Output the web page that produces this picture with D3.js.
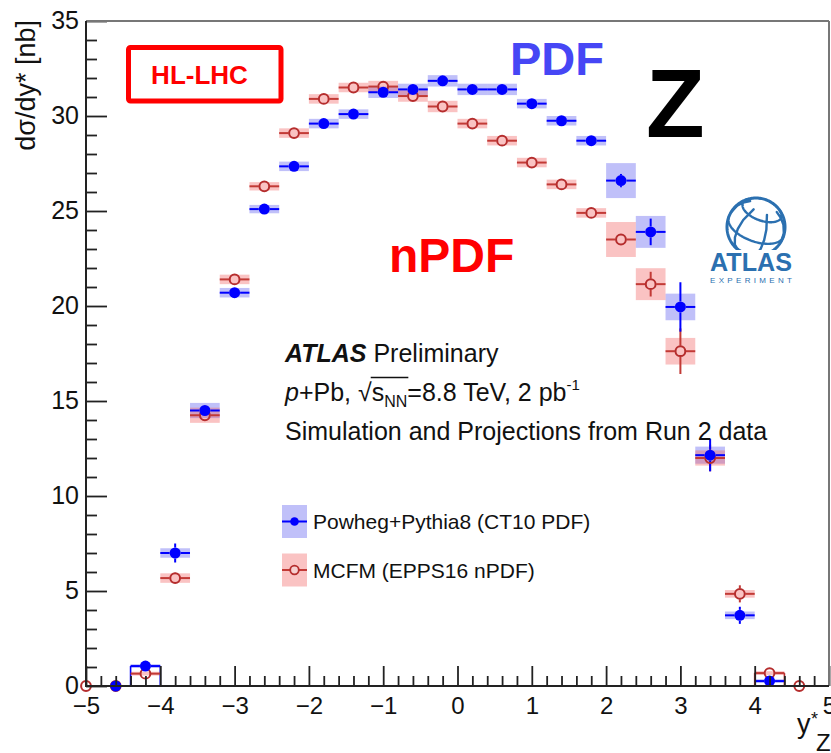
<!DOCTYPE html>
<html>
<head>
<meta charset="utf-8">
<script src="https://cdn.jsdelivr.net/npm/d3@7"></script>
<style>
  body { margin: 0; background: #fff; }
  svg { display: block; }
  text { font-family: "Liberation Sans", Arial, Helvetica, sans-serif; fill: #111; white-space: pre; }
</style>
</head>
<body>
<svg id="chart" width="831" height="753"></svg>
<script>
// Z boson differential cross section vs rapidity, p+Pb at 8.8 TeV (HL-LHC projection)

// Powheg+Pythia8 (CT10 PDF): bin centres, dσ/dy* [nb], stat and syst half-widths
const powhegBins = [-4.6, -4.2, -3.8, -3.4, -3.0, -2.6, -2.2, -1.8, -1.4, -1.0, -0.6, -0.2,
                    0.2, 0.6, 1.0, 1.4, 1.8, 2.2, 2.6, 3.0, 3.4, 3.8, 4.2];
const powhegXsec = [0.0, 1.05, 7.0, 14.5, 20.7, 25.1, 27.35, 29.6, 30.1, 31.25, 31.4, 31.85,
                    31.4, 31.4, 30.65, 29.75, 28.7, 26.6, 23.9, 19.95, 12.15, 3.72, 0.26];
const powhegStat = [0.05, 0.15, 0.5, 0.25, 0.2, 0.15, 0.15, 0.15, 0.15, 0.15, 0.15, 0.15,
                    0.15, 0.15, 0.15, 0.2, 0.25, 0.35, 0.7, 1.3, 0.85, 0.45, 0.1];
const powhegSyst = [0.05, 0.1, 0.25, 0.4, 0.25, 0.22, 0.25, 0.25, 0.25, 0.3, 0.3, 0.3,
                    0.3, 0.3, 0.25, 0.25, 0.25, 0.92, 0.84, 0.7, 0.45, 0.2, 0.1];

// MCFM (EPPS16 nPDF)
const mcfmBins = [-5.0, -4.6, -4.2, -3.8, -3.4, -3.0, -2.6, -2.2, -1.8, -1.4, -1.0, -0.6, -0.2,
                  0.2, 0.6, 1.0, 1.4, 1.8, 2.2, 2.6, 3.0, 3.4, 3.8, 4.2, 4.6];
const mcfmXsec = [0.0, 0.0, 0.65, 5.68, 14.25, 21.4, 26.3, 29.1, 30.9, 31.5, 31.55, 31.05, 30.5,
                  29.6, 28.7, 27.55, 26.4, 24.9, 23.5, 21.15, 17.62, 12.0, 4.85, 0.68, 0.0];
const mcfmStat = [0.05, 0.05, 0.1, 0.3, 0.25, 0.2, 0.15, 0.15, 0.15, 0.15, 0.15, 0.15, 0.15,
                  0.15, 0.15, 0.15, 0.2, 0.2, 0.25, 0.65, 1.2, 0.7, 0.45, 0.15, 0.05];
const mcfmSyst = [0.05, 0.05, 0.1, 0.25, 0.4, 0.25, 0.22, 0.25, 0.25, 0.25, 0.3, 0.3, 0.3,
                  0.25, 0.25, 0.25, 0.25, 0.25, 0.92, 0.84, 0.7, 0.4, 0.2, 0.1, 0.05];

const binHalfWidth = 0.2;

// axis ticks
const xMajorTicks = [-5, -4, -3, -2, -1, 0, 1, 2, 3, 4, 5];
const yMajorTicks = [0, 5, 10, 15, 20, 25, 30, 35];
const xDomain = [-5, 5];
const yDomain = [0, 35];

// labels
const yTitle = "dσ/dy* [nb]";
const headerLine1 = ["ATLAS", " Preliminary"];
const headerLine3 = "Simulation and Projections from Run 2 data";
const legendLabels = ["Powheg+Pythia8 (CT10 PDF)", "MCFM (EPPS16 nPDF)"];

const svg = d3.select("#chart");
const plot = { left: 86, right: 829, top: 21, bottom: 686 };

const x = d3.scaleLinear().domain(xDomain).range([plot.left, plot.right]);
const y = d3.scaleLinear().domain(yDomain).range([plot.bottom, plot.top]);

const BLUE = "#0000ff";
const BLUE_BAND = "rgba(60,60,235,0.32)";
const RED = "#b52d2d";
const RED_BAND = "rgba(240,90,90,0.36)";
const R = 5.5;

svg.append("defs").append("clipPath").attr("id", "plotClip")
  .append("rect")
  .attr("x", plot.left).attr("y", plot.top)
  .attr("width", plot.right - plot.left).attr("height", plot.bottom - plot.top);

function series(bins, vals, stat, syst) {
  return bins.map((b, i) => ({ x: b, v: vals[i], stat: stat[i], syst: syst[i] }));
}
const powheg = series(powhegBins, powhegXsec, powhegStat, powhegSyst);
const mcfm = series(mcfmBins, mcfmXsec, mcfmStat, mcfmSyst);

const clipped = svg.append("g").attr("clip-path", "url(#plotClip)");

// systematic bands
function drawBands(data, fill) {
  clipped.append("g").selectAll("rect").data(data).join("rect")
    .attr("x", d => x(d.x - binHalfWidth))
    .attr("width", d => x(d.x + binHalfWidth) - x(d.x - binHalfWidth))
    .attr("y", d => y(d.v + d.syst))
    .attr("height", d => y(d.v - d.syst) - y(d.v + d.syst))
    .attr("fill", fill);
}
drawBands(powheg, BLUE_BAND);
drawBands(mcfm, RED_BAND);

// bin edge outlines for the near-zero forward/backward bins
const lowBins = powheg.filter(d => d.v > 0 && d.v < 1.5).map(d => {
  const m = mcfm.find(e => Math.abs(e.x - d.x) < 1e-6);
  const top = Math.max(d.v, m ? m.v : 0);
  return { x: d.x, top, color: d.v >= (m ? m.v : 0) ? BLUE : RED };
});
const edges = clipped.append("g");
lowBins.forEach(b => {
  [b.x - binHalfWidth, b.x + binHalfWidth].forEach(ex => {
    edges.append("line")
      .attr("x1", x(ex)).attr("x2", x(ex))
      .attr("y1", y(b.top)).attr("y2", y(0))
      .attr("stroke", b.color).attr("stroke-width", 1.6);
  });
});

// error bars, broken around the marker
function drawErrors(data, color) {
  const g = clipped.append("g").attr("stroke", color).attr("stroke-width", 2);
  data.forEach(d => {
    const cx = x(d.x), cy = y(d.v);
    const xl = x(d.x - binHalfWidth), xr = x(d.x + binHalfWidth);
    g.append("line").attr("x1", xl).attr("x2", cx - R).attr("y1", cy).attr("y2", cy);
    g.append("line").attr("x1", cx + R).attr("x2", xr).attr("y1", cy).attr("y2", cy);
    const yt = y(d.v + d.stat), yb = y(d.v - d.stat);
    if (cy - yt > R) g.append("line").attr("x1", cx).attr("x2", cx).attr("y1", yt).attr("y2", cy - R);
    if (yb - cy > R) g.append("line").attr("x1", cx).attr("x2", cx).attr("y1", cy + R).attr("y2", yb);
  });
}
drawErrors(mcfm, "#c23a36");

svg.append("g").selectAll("circle").data(mcfm).join("circle")
  .attr("cx", d => x(d.x)).attr("cy", d => y(d.v)).attr("r", R - 0.6)
  .attr("fill", "none").attr("stroke", RED).attr("stroke-width", 2);

drawErrors(powheg, BLUE);
svg.append("g").selectAll("circle").data(powheg).join("circle")
  .attr("cx", d => x(d.x)).attr("cy", d => y(d.v)).attr("r", R)
  .attr("fill", BLUE);

// axes
const axisColor = "#222";
const xAxis = svg.append("g").attr("transform", `translate(0,${plot.bottom})`)
  .call(d3.axisBottom(x).tickValues(xMajorTicks).tickSize(-20).tickPadding(11));
const xMinor = svg.append("g").attr("transform", `translate(0,${plot.bottom})`)
  .call(d3.axisBottom(x).tickValues(d3.range(-50, 51, 2).map(v => v / 10).filter(v => Math.abs(v - Math.round(v)) > 1e-6))
    .tickSize(-10).tickFormat(""));
const yAxis = svg.append("g").attr("transform", `translate(${plot.left},0)`)
  .call(d3.axisLeft(y).tickValues(yMajorTicks).tickSize(-21).tickPadding(7));
const yMinor = svg.append("g").attr("transform", `translate(${plot.left},0)`)
  .call(d3.axisLeft(y).tickValues(d3.range(0, 36).filter(v => v % 5 !== 0)).tickSize(-11).tickFormat(""));

[xAxis, xMinor, yAxis, yMinor].forEach(a => {
  a.select(".domain").remove();
  a.selectAll(".tick line").attr("stroke", axisColor).attr("stroke-width", 1.8);
});
xAxis.selectAll(".tick text").attr("font-size", 24).attr("fill", "#111")
  .style("font-family", '"Liberation Sans", Arial, sans-serif');
yAxis.selectAll(".tick text").attr("font-size", 25).attr("fill", "#111")
  .attr("dy", "0.3em")
  .style("font-family", '"Liberation Sans", Arial, sans-serif');

// frame
svg.append("line").attr("x1", plot.left).attr("x2", plot.right).attr("y1", plot.top).attr("y2", plot.top)
  .attr("stroke", "#777").attr("stroke-width", 2);
svg.append("line").attr("x1", plot.right).attr("x2", plot.right).attr("y1", plot.top).attr("y2", plot.bottom)
  .attr("stroke", "#777").attr("stroke-width", 2);
svg.append("line").attr("x1", plot.left).attr("x2", plot.left).attr("y1", plot.top).attr("y2", plot.bottom + 1)
  .attr("stroke", axisColor).attr("stroke-width", 2);
svg.append("line").attr("x1", plot.left - 1).attr("x2", plot.right).attr("y1", plot.bottom).attr("y2", plot.bottom)
  .attr("stroke", axisColor).attr("stroke-width", 2);

// axis titles
svg.append("text").attr("transform", "translate(35,20) rotate(-90)")
  .attr("text-anchor", "end").attr("font-size", 27).text(yTitle);
svg.append("text").attr("x", 797).attr("y", 733).attr("font-size", 27).text("y");
svg.append("text").attr("x", 811).attr("y", 725).attr("font-size", 18).text("*");
svg.append("text").attr("x", 816).attr("y", 751).attr("font-size", 24).text("Z");

// header text
const h1 = svg.append("text").attr("x", 285).attr("y", 362).attr("font-size", 25);
h1.append("tspan").attr("font-weight", "bold").attr("font-style", "italic").text(headerLine1[0]);
h1.append("tspan").text(headerLine1[1]);

// second line, assembled piece by piece
(function () {
  const base = 401;
  let cx = 285;
  const g = svg.append("g");
  function piece(t, opts = {}) {
    const el = g.append("text").attr("x", cx).attr("y", base + (opts.dy || 0))
      .attr("font-size", opts.size || 25).text(t);
    if (opts.italic) el.attr("font-style", "italic");
    const w = el.node().getComputedTextLength();
    const start = cx;
    cx += w;
    return { start, end: cx };
  }
  piece("p", { italic: true });
  piece("+Pb,\u00a0");
  piece("√");
  const s = piece("s");
  const nn = piece("NN", { size: 16, dy: 6 });
  g.append("line").attr("x1", s.start - 1).attr("x2", nn.end + 1)
    .attr("y1", base - 23.5).attr("y2", base - 23.5)
    .attr("stroke", "#111").attr("stroke-width", 1.4);
  piece("=8.8 TeV, 2 pb");
  piece("-1", { size: 15, dy: -11 });
})();

svg.append("text").attr("x", 285).attr("y", 440).attr("font-size", 25).text(headerLine3);

// legend
const legendRows = [
  { y: 521.5, band: BLUE_BAND, line: BLUE, filled: true, label: legendLabels[0] },
  { y: 570, band: RED_BAND, line: "#c23a36", filled: false, label: legendLabels[1] }
];
const lg = svg.append("g");
legendRows.forEach(r => {
  lg.append("rect").attr("x", 282).attr("y", r.y - 16.5).attr("width", 25).attr("height", 33).attr("fill", r.band);
  lg.append("line").attr("x1", 282).attr("x2", 307).attr("y1", r.y).attr("y2", r.y)
    .attr("stroke", r.line).attr("stroke-width", 2);
  lg.append("circle").attr("cx", 294.5).attr("cy", r.y).attr("r", 4.3)
    .attr("fill", r.filled ? BLUE : "#f6d0d0").attr("stroke", r.filled ? "none" : RED).attr("stroke-width", 1.8);
  lg.append("text").attr("x", 313).attr("y", r.y + 7.5).attr("font-size", 21).text(r.label);
});

// annotations
svg.append("rect").attr("x", 128.5).attr("y", 47.5).attr("width", 152.5).attr("height", 53.5)
  .attr("rx", 2).attr("fill", "none").attr("stroke", "#ff0000").attr("stroke-width", 5);
svg.append("text").attr("x", 199.5).attr("y", 83.5).attr("text-anchor", "middle")
  .attr("font-size", 26).attr("font-weight", "bold").style("fill", "#ff0000").text("HL-LHC");
svg.append("text").attr("x", 510).attr("y", 75).attr("font-size", 47).attr("font-weight", "bold")
  .style("fill", "#4646f5").text("PDF");
svg.append("text").attr("x", 389).attr("y", 272).attr("font-size", 48).attr("font-weight", "bold")
  .style("fill", "#ff0000").text("nPDF");
svg.append("text").attr("x", 646).attr("y", 137).attr("font-size", 96).attr("font-weight", "bold")
  .style("fill", "#000").text("Z");

// ATLAS experiment logo
(function () {
  const logoBlue = "#2b70b0";
  const cxl = 756, cyl = 227, rl = 29;
  const defs = svg.select("defs");
  defs.append("clipPath").attr("id", "globeClip").append("rect")
    .attr("x", cxl - 40).attr("y", cyl - 40).attr("width", 80).attr("height", 250 - (cyl - 40));
  const proj = d3.geoOrthographic().scale(rl).translate([cxl, cyl]).rotate([25, -30, -20]).clipAngle(90);
  const path = d3.geoPath(proj);
  const gg = svg.append("g").attr("clip-path", "url(#globeClip)").attr("fill", "none")
    .attr("stroke", logoBlue).attr("stroke-linecap", "round");
  gg.append("path").datum(d3.geoGraticule().step([60, 45]).extent([[-180, -60], [180, 60]])())
    .attr("d", path).attr("stroke-width", 2.4);
  gg.append("path").datum({ type: "Sphere" }).attr("d", path).attr("stroke-width", 3);
  svg.append("text").attr("x", 751).attr("y", 271).attr("text-anchor", "middle")
    .attr("font-size", 25).attr("font-weight", "bold").style("fill", logoBlue)
    .attr("textLength", 82).attr("lengthAdjust", "spacingAndGlyphs").text("ATLAS");
  svg.append("text").attr("x", 710).attr("y", 283).attr("font-size", 8)
    .style("fill", logoBlue).attr("textLength", 82).attr("lengthAdjust", "spacing").text("EXPERIMENT");
})();
</script>
</body>
</html>
